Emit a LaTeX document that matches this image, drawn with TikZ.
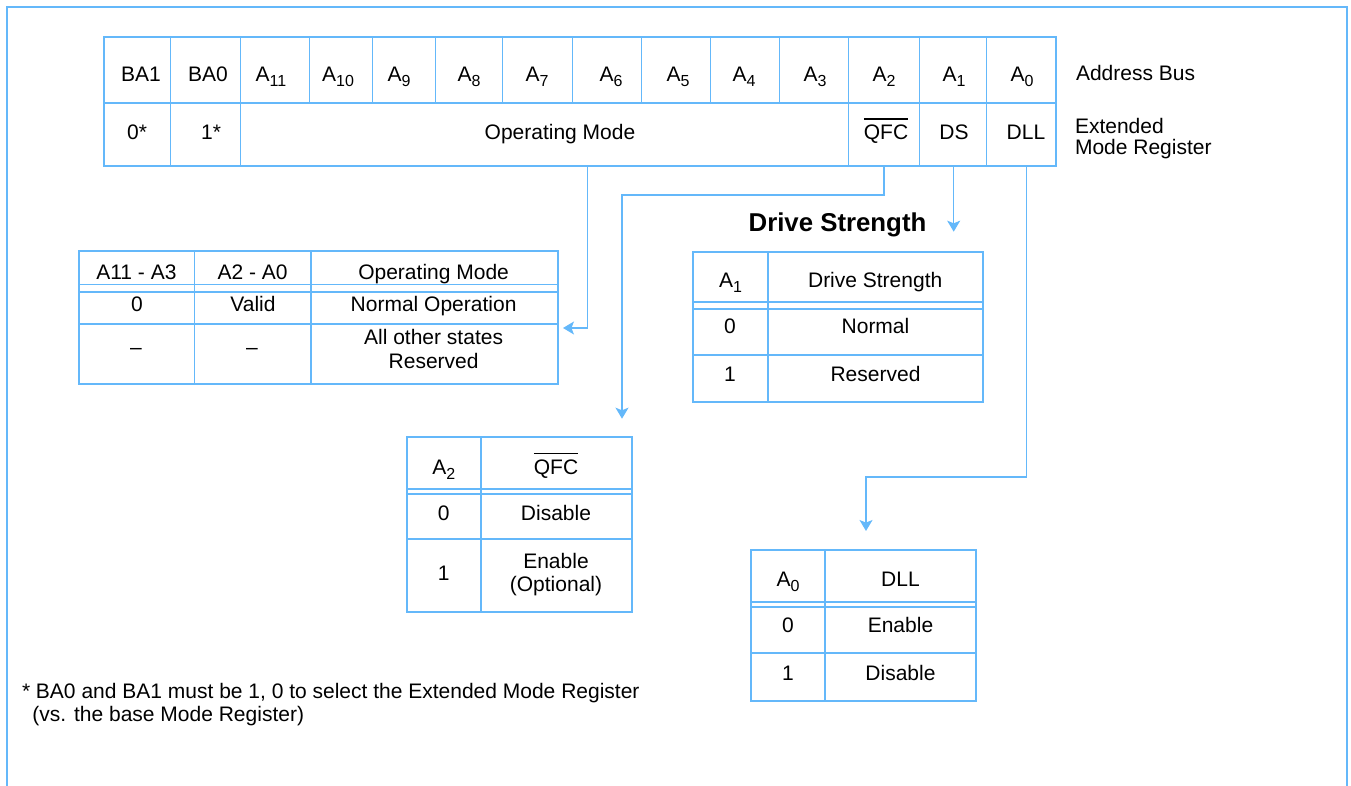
\documentclass[tikz,border=0pt]{standalone}
\usepackage{fontspec}
\setmainfont{Liberation Sans}
\usetikzlibrary{arrows.meta,calc}
\definecolor{lineblue}{RGB}{100,184,250}
\newcommand{\mysub}[1]{\raisebox{-2.6pt}{\fontsize{8}{8}\selectfont #1}}
\newcommand{\qfcbar}{\leavevmode\vbox{\hrule height 0.7pt\kern 2.9pt\hbox{QFC}}}
\begin{document}
\begin{tikzpicture}[x=0.5pt,y=-0.5pt,
  every node/.style={inner sep=0pt,outer sep=0pt,font=\fontsize{10.5}{12}\selectfont},
  lbl/.style={anchor=base},
  lblw/.style={anchor=base west},
  border/.style={draw=lineblue,line width=1pt},
  tabbox/.style={draw=lineblue,line width=1pt,anchor=north west},
  rule/.style={draw=lineblue,line width=0.85pt},
  hair/.style={draw=lineblue,line width=0.55pt},
  conn/.style={draw=lineblue,line width=0.55pt,-{Stealth[length=5.5pt,width=6.5pt,inset=1.3pt]}},
  connbold/.style={conn,line width=0.9pt},
  titletext/.style={anchor=base,font=\fontsize{12.9}{15}\selectfont\bfseries}
]
\useasboundingbox (0,0) rectangle (1351,786);
% outer frame
\draw[border] (7,786) -- (7,7.3) -- (1346.5,7.3) -- (1346.5,786);

% ---------------- register table ----------------
\node[tabbox,minimum width=476.1pt,minimum height=64.25pt] (reg) at (103.5,37.5) {};
\draw[rule] (103.5,103) -- (1055.7,103);
\foreach \x in {170.3,240.7,309.3,372.7,435.7,502.7,572.7,641.7,710.3,779.3,848.7,919.3,986.3}
  \draw[hair] (\x,37.5) -- (\x,103);
\foreach \x in {170.3,240.7,848.7,919.3,986.3}
  \draw[hair] (\x,103) -- (\x,166);

\node[lbl] (ba1) at (141,81.5) {BA1};
\node[lbl] (ba0) at (208,81.5) {BA0};
\node[lbl] (a11) at (271,81.5) {A\mysub{11}};
\node[lbl] (a10) at (338,81.5) {A\mysub{10}};
\node[lbl] (a9) at (399,81.5) {A\mysub{9}};
\node[lbl] (a8) at (469,81.5) {A\mysub{8}};
\node[lbl] (a7) at (537,81.5) {A\mysub{7}};
\node[lbl] (a6) at (611,81.5) {A\mysub{6}};
\node[lbl] (a5) at (678,81.5) {A\mysub{5}};
\node[lbl] (a4) at (744,81.5) {A\mysub{4}};
\node[lbl] (a3) at (815,81.5) {A\mysub{3}};
\node[lbl] (a2) at (884,81.5) {A\mysub{2}};
\node[lbl] (a1) at (954,81.5) {A\mysub{1}};
\node[lbl] (a0) at (1022,81.5) {A\mysub{0}};

\node[lbl] (r0) at (137,140) {0*};
\node[lbl] (r1) at (211,140) {1*};
\node[lbl] (opmode) at (560,140) {Operating Mode};
\node[lbl] (qfc) at (886,140) {\qfcbar};
\node[lbl] (ds) at (954,140) {DS};
\node[lbl] (dll) at (1026,140) {DLL};

\node[lblw] (abus) at (1076,81) {Address Bus};
\node[lblw] (emr1) at (1075,133.5) {Extended};
\node[lblw] (emr2) at (1075,155) {Mode Register};

\coordinate (omout) at (587.3,166);
\coordinate (qfcout) at (884,166);
\coordinate (dsout) at (953.7,166);
\coordinate (dllout) at (1026.7,166);

% ---------------- operating mode table ----------------
\node[tabbox,minimum width=239.55pt,minimum height=66.6pt] (omtab) at (78.9,251) {};
\draw[rule] (78.9,284.6) -- (558,284.6);
\draw[rule] (78.9,291.8) -- (558,291.8);
\draw[rule] (78.9,323.8) -- (558,323.8);
\draw[rule] (194.6,251) -- (194.6,384.2);
\draw[rule] (310.7,251) -- (310.7,384.2);
\node[lbl] (omh1) at (136.4,279.5) {A11 - A3};
\node[lbl] (omh2) at (252.6,279.5) {A2 - A0};
\node[lbl] (omh3) at (433.6,279.5) {Operating Mode};
\node[lbl] (om11) at (137,312) {0};
\node[lbl] (om12) at (253,312) {Valid};
\node[lbl] (om13) at (433.6,312) {Normal Operation};
\node[lbl] (om21) at (136,355) {--};
\node[lbl] (om22) at (252,355) {--};
\node[lbl] (om23a) at (433.6,345) {All other states};
\node[lbl] (om23b) at (433.6,369) {Reserved};

% ---------------- drive strength table ----------------
\node[titletext] (dstitle) at (837.5,231.7) {Drive Strength};
\node[tabbox,minimum width=144.85pt,minimum height=75.15pt] (dstab) at (693,251.7) {};
\draw[rule] (693,302) -- (982.7,302);
\draw[rule] (693,309) -- (982.7,309);
\draw[rule] (693,354.7) -- (982.7,354.7);
\draw[rule] (767.7,251.7) -- (767.7,402);
\node[lbl] (dsh1) at (730.5,287.3) {A\mysub{1}};
\node[lbl] (dsh2) at (875.2,287.3) {Drive Strength};
\node[lbl] (ds11) at (730,334) {0};
\node[lbl] (ds12) at (875.5,334) {Normal};
\node[lbl] (ds21) at (730,381.7) {1};
\node[lbl] (ds22) at (875.5,381.7) {Reserved};

% ---------------- QFC table ----------------
\node[tabbox,minimum width=112.5pt,minimum height=87.5pt] (qfctab) at (406.7,436.7) {};
\draw[rule] (406.7,489) -- (631.7,489);
\draw[rule] (406.7,494.3) -- (631.7,494.3);
\draw[rule] (406.7,539) -- (631.7,539);
\draw[rule] (480.7,436.7) -- (480.7,611.7);
\node[lbl] (qh1) at (443.7,474.5) {A\mysub{2}};
\node[lbl] (qh2) at (556,474.5) {\qfcbar};
\node[lbl] (q11) at (443.7,520.7) {0};
\node[lbl] (q12) at (556,520.7) {Disable};
\node[lbl] (q21) at (443.7,580.7) {1};
\node[lbl] (q22a) at (556,568.5) {Enable};
\node[lbl] (q22b) at (556,591) {(Optional)};

% ---------------- DLL table ----------------
\node[tabbox,minimum width=112.5pt,minimum height=75.35pt] (dlltab) at (751,550) {};
\draw[rule] (751,601.7) -- (976,601.7);
\draw[rule] (751,607) -- (976,607);
\draw[rule] (751,653) -- (976,653);
\draw[rule] (825,550) -- (825,700.7);
\node[lbl] (dh1) at (788,586) {A\mysub{0}};
\node[lbl] (dh2) at (900.5,586) {DLL};
\node[lbl] (d11) at (788,632.7) {0};
\node[lbl] (d12) at (900.5,632.7) {Enable};
\node[lbl] (d21) at (788,680) {1};
\node[lbl] (d22) at (900.5,680) {Disable};

% ---------------- connectors ----------------
\coordinate (omturn) at (587.3,328);
\draw[conn] (omout) -- (omturn) -- ($(omturn -| omtab.east)+(5,0)$);

\coordinate (qfcturn1) at (884,195);
\coordinate (qfcturn2) at (622,195);
\draw[connbold] (qfcout) -- (qfcturn1) -- (qfcturn2) -- ($(qfcturn2 |- qfctab.north)+(0,-18)$);

\draw[conn] (dsout) -- ($(dsout |- dstab.north)+(0,-20)$);

\coordinate (dllturn1) at (1026.7,477);
\coordinate (dllturn2) at (866,477);
\draw[conn] (dllout) -- (dllturn1) -- (dllturn2) -- ($(dllturn2 |- dlltab.north)+(0,-19)$);

% ---------------- footnote ----------------
\node[lblw] (fn1) at (22,698) {* BA0 and BA1 must be 1, 0 to select the Extended Mode Register};
\node[lblw] (fn2) at (32.5,721) {(vs. the base Mode Register)};
\end{tikzpicture}
\end{document}
